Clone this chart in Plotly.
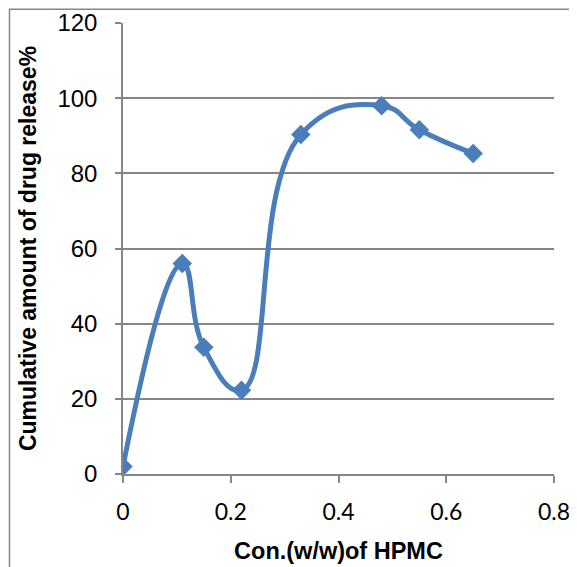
import plotly.graph_objects as go

hpmc_conc = [0, 0.11, 0.15, 0.22, 0.33, 0.48, 0.55, 0.65]
drug_release = [2, 56, 33.7, 22.3, 90.3, 98, 91.6, 85.3]

x_title = "Con.(w/w)of HPMC"
y_title = "Cumulative amount of drug release%"

blue = "#4A7EBB"
gray = "#868686"

fig = go.Figure()
fig.add_trace(go.Scatter(
    x=hpmc_conc, y=drug_release, mode="lines+markers",
    line=dict(color=blue, width=5, shape="spline", smoothing=1.3),
    marker=dict(symbol="diamond", size=15, color=blue),
    showlegend=False,
))

fig.update_layout(
    width=569, height=559,
    margin=dict(l=115, r=23, t=15, b=93),
    paper_bgcolor="white", plot_bgcolor="white",
    font=dict(family="Liberation Sans, Arial, sans-serif", color="black"),
)
fig.update_xaxes(
    range=[0, 0.8], tickvals=[0, 0.2, 0.4, 0.6, 0.8],
    ticktext=["0", "0.2", "0.4", "0.6", "0.8"],
    showgrid=False, zeroline=False, automargin=False,
    showline=True, linecolor=gray, linewidth=1.5,
    ticks="outside", ticklen=7, tickcolor=gray, tickwidth=1.5,
    tickfont=dict(size=23, family="Lato, Liberation Sans, sans-serif"),
    ticklabelstandoff=10,
    title=dict(text="<b>" + x_title + "</b>", font=dict(size=23.5), standoff=18),
)
fig.update_yaxes(
    range=[0, 120], tickvals=[0, 20, 40, 60, 80, 100, 120],
    showgrid=True, gridcolor=gray, gridwidth=1.5, zeroline=False, automargin=False,
    showline=True, linecolor=gray, linewidth=1.5,
    ticks="outside", ticklen=6, tickcolor=gray, tickwidth=1.5,
    tickfont=dict(size=24), ticklabelstandoff=13,
    title=dict(text="<b>" + y_title + "</b>", font=dict(size=23), standoff=14),
)
# chart border (cropped at right/bottom like the reference)
fig.add_shape(type="rect", xref="paper", yref="paper",
              x0=-0.2633, y0=-0.3, x1=1.2, y1=1.0303,
              line=dict(color=gray, width=1.5), layer="below")

fig.write_html("out.html")
